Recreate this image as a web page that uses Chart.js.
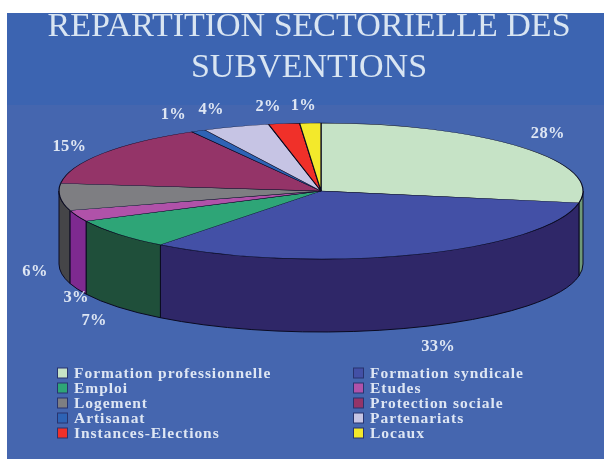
<!DOCTYPE html>
<html><head><meta charset="utf-8">
<style>html,body{margin:0;padding:0;background:#fff}#w{width:604px;height:459px;filter:blur(0.45px)}canvas{display:block}</style>
</head><body><div id="w"><canvas id="c" width="604" height="459"></canvas></div>
<script src="https://cdn.jsdelivr.net/npm/chart.js@4"></script>
<script>
const titleLines = ['REPARTITION SECTORIELLE DES', 'SUBVENTIONS'];
const categories = ['Formation professionnelle','Formation syndicale','Emploi','Etudes','Logement','Protection sociale','Artisanat','Partenariats','Instances-Elections','Locaux'];
const values = [27.8, 32.7, 7.2, 2.7, 6.4, 15, 0.9, 4.1, 1.9, 1.3];
const percentLabels = ['28%','33%','7%','3%','6%','15%','1%','4%','2%','1%'];
const topColours = ['#C6E3C6','#4350A6','#2EA577','#B052A9','#7E7E82','#943468','#2E63B5','#C6C4E4','#F03029','#F3E92B'];
const sideColours = ['#6F9A78','#2F2768','#1F4F3A','#7E2A90','#454548','#5E1F42','#1C3F76','#807E98','#981C18','#A09818'];
const CX = 321, CY = 191, RX = 262, RY = 68, DEPTH = 73;
const labelOffsets = [[26,-14],[23,19],[-24,14],[-1,9],[-25,2],[-33,-7],[-25,-16],[-25,-17],[-16,-17],[-7,-17]];
const FONT = '"Liberation Serif","Times New Roman",serif';
const TXT = '#DEE6F3';
const K = RY / RX;

const scene = {
  id: 'scene',
  beforeDraw(chart) {
    const c = chart.ctx;
    c.save();
    c.fillStyle = '#fff'; c.fillRect(0, 0, 604, 459);
    c.fillStyle = '#3C64B1'; c.fillRect(7, 13, 597, 92);
    c.fillStyle = '#4566AF'; c.fillRect(7, 105, 597, 354);
    c.restore();
  },
  beforeDatasetsDraw(chart) {
    const c = chart.ctx;
    const arcs = chart.getDatasetMeta(0).data;
    c.save();
    c.lineWidth = 1; c.strokeStyle = '#0a0a20'; c.lineJoin = 'round';
    arcs.forEach((arc, i) => {
      const p = arc.getProps(['startAngle','endAngle','outerRadius']);
      const a = Math.max(p.startAngle, 0), b = Math.min(p.endAngle, Math.PI);
      if (b <= a) return;
      const ry = p.outerRadius * K;
      c.beginPath();
      c.ellipse(CX, CY, p.outerRadius, ry, 0, a, b);
      c.ellipse(CX, CY + DEPTH, p.outerRadius, ry, 0, b, a, true);
      c.closePath();
      c.fillStyle = sideColours[i];
      c.fill(); c.stroke();
    });
    const ax = arcs[0].x, ay = arcs[0].y;
    c.save();
    c.translate(CX, CY); c.scale(1, K); c.translate(-ax, -ay);
  },
  afterDatasetsDraw(chart) {
    const c = chart.ctx;
    c.restore(); c.restore();
    const arcs = chart.getDatasetMeta(0).data;
    c.save();
    c.fillStyle = TXT; c.textAlign = 'center'; c.textBaseline = 'middle';
    c.font = 'bold 16.5px ' + FONT; c.letterSpacing = '0.3px';
    arcs.forEach((arc, i) => {
      const p = arc.getProps(['startAngle','endAngle','outerRadius']);
      const m = (p.startAngle + p.endAngle) / 2;
      const x = CX + p.outerRadius * Math.cos(m);
      let y = CY + p.outerRadius * K * Math.sin(m);
      if (Math.sin(m) > 0 && Math.cos(m) < 0.9) y += DEPTH;
      c.fillText(percentLabels[i], x + labelOffsets[i][0], y + labelOffsets[i][1]);
    });
    // legend, two columns read row by row
    c.textAlign = 'left'; c.textBaseline = 'middle';
    c.font = 'bold 15.5px ' + FONT; c.letterSpacing = '0.96px';
    categories.forEach((name, i) => {
      const col = i % 2, row = (i - col) / 2;
      const x = col ? 353 : 57, y = 373 + row * 15;
      c.fillStyle = topColours[i];
      c.strokeStyle = '#28336e'; c.lineWidth = 1;
      c.fillRect(x + .5, y - 5, 10, 10); c.strokeRect(x + .5, y - 5, 10, 10);
      c.fillStyle = TXT;
      c.fillText(name, x + 17, y + 0.5);
    });
    c.restore();
  }
};

new Chart(document.getElementById('c'), {
  type: 'pie',
  data: { labels: categories, datasets: [{
    data: values, backgroundColor: topColours, borderColor: '#0a0a20', borderWidth: 1.2, clip: false, radius: RX
  }]},
  options: {
    responsive: false, animation: false, events: [],
    layout: { padding: { left: 14, top: 7 } },
    plugins: {
      legend: { display: false }, tooltip: { enabled: false },
      title: { display: true, text: titleLines, color: '#D9E5F2',
        font: { family: FONT, size: 34, weight: 'normal', lineHeight: 1.2 }, padding: { top: 0, bottom: 0 } }
    }
  },
  plugins: [scene]
});
</script></body></html>
